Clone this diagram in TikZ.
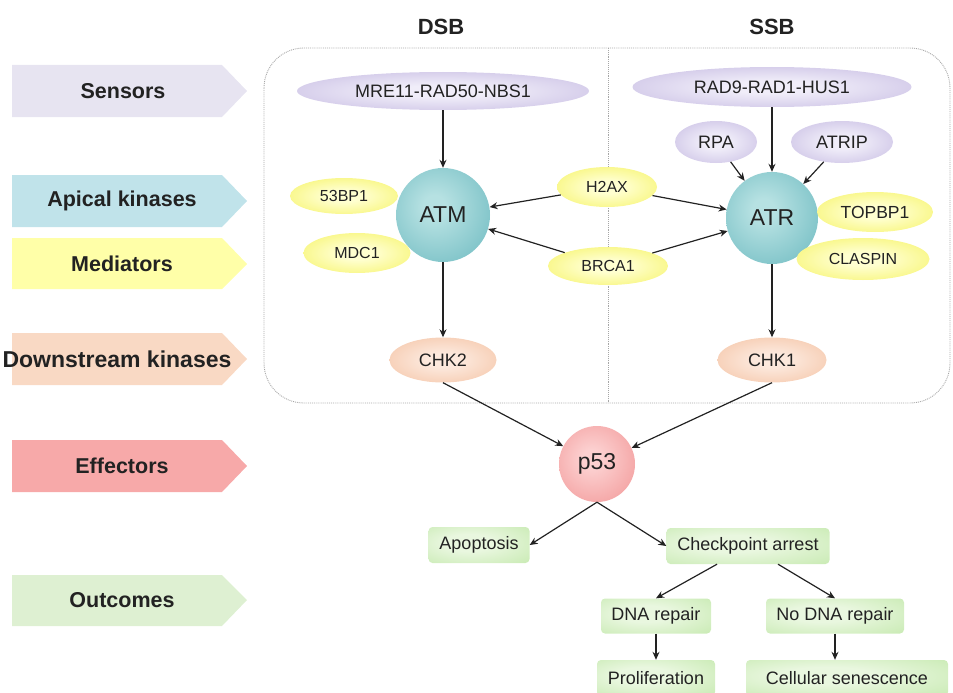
\documentclass[tikz,border=0pt]{standalone}
\usepackage{fontspec}
\setmainfont{Liberation Sans}
\usetikzlibrary{arrows.meta,shapes.geometric,calc}
\definecolor{lavE}{HTML}{BBAEDC}\definecolor{lavC}{HTML}{F0EDF9}
\definecolor{yelE}{HTML}{F3F048}\definecolor{yelC}{HTML}{FFFFD0}
\definecolor{pchE}{HTML}{F2B995}\definecolor{pchC}{HTML}{FCE8DC}
\definecolor{tlE}{HTML}{55ADB5}\definecolor{tlC}{HTML}{B6E1E2}
\definecolor{pkE}{HTML}{EE8282}\definecolor{pkC}{HTML}{FCD0D0}
\definecolor{grE}{HTML}{B6E39A}\definecolor{grC}{HTML}{E9F7DF}
\definecolor{sensF}{HTML}{E7E4F1}\definecolor{apiF}{HTML}{C0E3EA}
\definecolor{medF}{HTML}{FFFFA8}\definecolor{dwnF}{HTML}{F9D9C4}
\definecolor{effF}{HTML}{F7A9A9}\definecolor{outF}{HTML}{DEF0D2}
\definecolor{txt}{HTML}{222222}
\pgfdeclareradialshading{shlav}{\pgfpoint{0bp}{0bp}}{color(0bp)=(lavC);color(8bp)=(lavC);color(44bp)=(lavE);color(72bp)=(lavE)}
\pgfdeclareradialshading{shyel}{\pgfpoint{0bp}{0bp}}{color(0bp)=(yelC);color(8bp)=(yelC);color(44bp)=(yelE);color(72bp)=(yelE)}
\pgfdeclareradialshading{shpch}{\pgfpoint{0bp}{0bp}}{color(0bp)=(pchC);color(8bp)=(pchC);color(44bp)=(pchE);color(72bp)=(pchE)}
\pgfdeclareradialshading{shtl}{\pgfpoint{-5bp}{5bp}}{color(0bp)=(tlC);color(6bp)=(tlC);color(50bp)=(tlE);color(80bp)=(tlE)}
\pgfdeclareradialshading{shpk}{\pgfpoint{-4bp}{4bp}}{color(0bp)=(pkC);color(6bp)=(pkC);color(50bp)=(pkE);color(80bp)=(pkE)}
\pgfdeclareradialshading{shgr}{\pgfpoint{-6bp}{4bp}}{color(0bp)=(grC);color(12bp)=(grC);color(55bp)=(grE);color(75bp)=(grE)}
\tikzset{
  base/.style={text=txt,inner sep=0pt},
  fn/.style={font=\fontsize{18}{20}\selectfont},
  fs/.style={font=\fontsize{16}{18}\selectfont},
  fb/.style={font=\fontsize{23}{25}\selectfont},
  lav/.style={base,fn,ellipse,shading=shlav},
  yel/.style={base,fs,ellipse,shading=shyel},
  pch/.style={base,fn,ellipse,shading=shpch},
  kin/.style={base,fb,circle,shading=shtl},
  eff/.style={base,fb,circle,shading=shpk},
  outbox/.style={base,fn,rectangle,rounded corners=4pt,shading=shgr},
  lbl/.style={text=txt,font=\bfseries\fontsize{21.5}{23}\selectfont},
  hdr/.style={text=txt,font=\bfseries\fontsize{22}{24}\selectfont},
  arr/.style={draw=txt,line width=1.2pt,-{Stealth[length=8pt,width=7pt]}},
  frame/.style={draw=gray!70,densely dotted,line width=0.9pt}
}
\begin{document}
\begin{tikzpicture}[x=1pt,y=-1pt]
\useasboundingbox (0,0) rectangle (953,693);
% side labels
\fill[sensF] (12,65) -- (222,65) -- (247,91) -- (222,117) -- (12,117) -- cycle;
\node[lbl] (lsens) at (123,91) {Sensors};
\fill[apiF] (12,175) -- (222,175) -- (247,201) -- (222,227) -- (12,227) -- cycle;
\node[lbl] (lapi) at (122,201) {Apical kinases};
\fill[medF] (12,238) -- (222,238) -- (247,264) -- (222,289) -- (12,289) -- cycle;
\node[lbl] (lmed) at (122,264) {Mediators};
\fill[dwnF] (12,333) -- (222,333) -- (247,359) -- (222,385) -- (12,385) -- cycle;
\node[lbl,font=\bfseries\fontsize{23}{25}\selectfont] (ldwn) at (117,359) {Downstream kinases};
\fill[effF] (12,440) -- (222,440) -- (247,466) -- (222,492) -- (12,492) -- cycle;
\node[lbl] (leff) at (122,466) {Effectors};
\fill[outF] (12,575) -- (222,575) -- (247,600) -- (222,626) -- (12,626) -- cycle;
\node[lbl] (lout) at (122,600) {Outcomes};
% headers
\node[hdr] (dsb) at (441,27) {DSB};
\node[hdr] (ssb) at (772,27) {SSB};
% frame
\draw[frame,rounded corners=40pt] (264,48) rectangle (950,403);
\coordinate (divtop) at (608,48);
\coordinate (divbot) at (608,403);
\draw[frame] (divtop) -- (divbot);
% nodes
\node[lav,minimum width=292pt,minimum height=38pt] (mre) at (443,91) {MRE11-RAD50-NBS1};
\node[lav,minimum width=279pt,minimum height=40pt] (rad) at (772,87) {RAD9-RAD1-HUS1};
\node[lav,minimum width=82pt,minimum height=42pt] (rpa) at (716,142) {RPA};
\node[lav,minimum width=102pt,minimum height=42pt] (atrip) at (842,142) {ATRIP};
\node[kin,minimum size=94pt] (atm) at (443,215) {ATM};
\node[kin,minimum size=92pt] (atr) at (772,218) {ATR};
\node[yel,minimum width=108pt,minimum height=36pt] (bp) at (344,196) {53BP1};
\node[yel,minimum width=107pt,minimum height=40pt] (mdc) at (357,253) {MDC1};
\node[yel,minimum width=100pt,minimum height=40pt] (h2ax) at (607,187) {H2AX};
\node[yel,minimum width=120pt,minimum height=38pt] (brca) at (608,266) {BRCA1};
\node[yel,minimum width=116pt,minimum height=40pt,font=\fontsize{17.5}{19}\selectfont] (topbp) at (875,212) {TOPBP1};
\node[yel,minimum width=133pt,minimum height=42pt] (clasp) at (863,259) {CLASPIN};
\node[pch,minimum width=107pt,minimum height=45pt] (chk2) at (443,360) {CHK2};
\node[pch,minimum width=109pt,minimum height=45pt] (chk1) at (772,360) {CHK1};
\node[eff,minimum size=76pt] (p53) at (597,464) {p53};
\node[outbox,minimum width=101pt,minimum height=36pt] (apo) at (479,545) {Apoptosis};
\node[outbox,minimum width=163pt,minimum height=36pt] (cp) at (748,546) {Checkpoint arrest};
\node[outbox,minimum width=110pt,minimum height=35pt] (dna) at (656,616) {DNA repair};
\node[outbox,minimum width=138pt,minimum height=35pt] (nodna) at (835,616) {No DNA repair};
\node[outbox,minimum width=118pt,minimum height=36pt] (prol) at (656,678) {Proliferation};
\node[outbox,minimum width=202pt,minimum height=36pt] (cell) at (847,678) {Cellular senescence};
% connectors
\draw[arr] (mre.south) -- (atm.north);
\draw[arr] (rad.south) -- (atr.north);
\draw[arr] (rpa) -- (atr);
\draw[arr] (atrip) -- (atr);
\draw[arr] (h2ax) -- (atm);
\draw[arr] (h2ax) -- (atr);
\draw[arr] (brca) -- (atm);
\draw[arr] (brca) -- (atr);
\draw[arr] (atm.south) -- (chk2.north);
\draw[arr] (atr.south) -- (chk1.north);
\draw[arr] (chk2.south) -- (p53);
\draw[arr] (chk1.south) -- (p53);
\draw[arr] (p53.south) -- (apo.east);
\draw[arr] (p53.south) -- (cp.west);
\draw[arr] ($(cp.south)+(-31,0)$) -- (dna.north);
\draw[arr] ($(cp.south)+(30,0)$) -- (nodna.north);
\draw[arr] (dna.south) -- (prol.north);
\draw[arr] (nodna.south) -- (nodna.south |- cell.north);
\end{tikzpicture}
\end{document}
